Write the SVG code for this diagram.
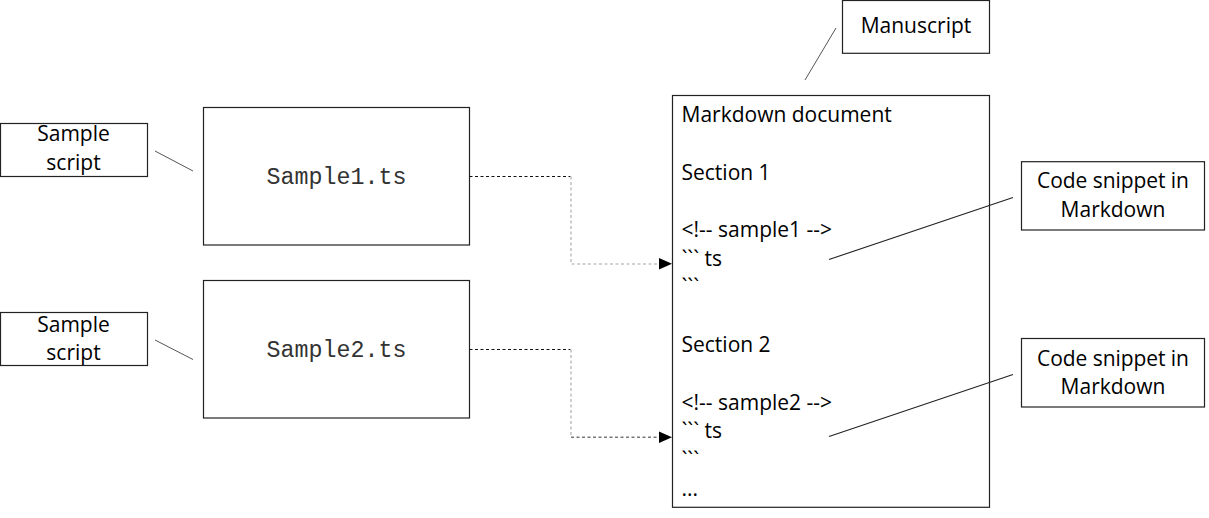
<svg xmlns="http://www.w3.org/2000/svg" width="1209" height="518" viewBox="0 0 1209 518">
<style>
.box{fill:#fff;stroke:#222;stroke-width:1.2}
.t{font-family:"Open Sans","Liberation Sans",sans-serif;font-size:21px;fill:#000}
.c{text-anchor:middle}
.mono{font-family:"Liberation Mono","Courier New",monospace;font-size:23.3px;fill:#333;text-anchor:middle}
.lead{stroke:#555;stroke-width:1;fill:none}
.lead2{stroke:#222;stroke-width:1.1;fill:none}
.dk{stroke:#111;stroke-width:1.2;stroke-dasharray:3,2.5;fill:none}
.lt{stroke:#c4c4c4;stroke-width:1.6;stroke-dasharray:3,2.5;fill:none}
.md{stroke:#777;stroke-width:1.4;stroke-dasharray:3,2.5;fill:none}
.ah{fill:#000}
</style>
<rect width="1209" height="518" fill="#fff"/>
<g id="sample-script-1">
<rect class="box" x="0.5" y="123.5" width="147" height="53"/>
<text class="t c" x="73.5" y="141">Sample</text>
<text class="t c" x="73.5" y="169.5">script</text>
</g>
<g id="sample-script-2">
<rect class="box" x="0.5" y="312.5" width="147" height="53"/>
<text class="t c" x="73.5" y="331.5">Sample</text>
<text class="t c" x="73.5" y="360">script</text>
</g>
<g id="sample1">
<rect class="box" x="203.5" y="107.5" width="266" height="137.5"/>
<text class="mono" x="336.5" y="183.5">Sample1.ts</text>
</g>
<g id="sample2">
<rect class="box" x="203.5" y="280.5" width="266" height="137.5"/>
<text class="mono" x="336.5" y="356.8">Sample2.ts</text>
</g>
<g id="manuscript">
<rect class="box" x="842.5" y="0.5" width="147" height="52.8"/>
<text class="t c" x="916" y="33.3">Manuscript</text>
</g>
<g id="markdown-document">
<rect class="box" x="672.5" y="95.5" width="317" height="411.8"/>
<text class="t" x="681.5" y="121.7">Markdown document</text>
<text class="t" x="681.5" y="179.5">Section 1</text>
<text class="t" x="681.5" y="237">&lt;!-- sample1 --&gt;</text>
<text class="t" x="681.5" y="265.5">``` ts</text>
<text class="t" x="681.5" y="294">```</text>
<text class="t" x="681.5" y="352">Section 2</text>
<text class="t" x="681.5" y="409.5">&lt;!-- sample2 --&gt;</text>
<text class="t" x="681.5" y="438.3">``` ts</text>
<text class="t" x="681.5" y="466.5">```</text>
<text class="t" x="681.5" y="496">...</text>
</g>
<g id="code-snippet-1">
<rect class="box" x="1021.5" y="161.7" width="183" height="68.3"/>
<text class="t c" x="1113" y="188.3" textLength="152">Code snippet in</text>
<text class="t c" x="1113" y="216.7">Markdown</text>
</g>
<g id="code-snippet-2">
<rect class="box" x="1021.5" y="338.5" width="183" height="68.5"/>
<text class="t c" x="1113" y="366" textLength="152">Code snippet in</text>
<text class="t c" x="1113" y="394.3">Markdown</text>
</g>
<g id="connectors">
<line class="lead" x1="155" y1="151" x2="193" y2="171"/>
<line class="lead" x1="155" y1="340" x2="193" y2="359.5"/>
<line class="lead" x1="805" y1="80" x2="836" y2="28"/>
<line class="lead2" x1="829" y1="259.5" x2="1013" y2="197.5"/>
<line class="lead2" x1="829" y1="436.5" x2="1013" y2="374.5"/>
<path class="dk" d="M469.5 176.5H570.5"/>
<path class="lt" d="M571 176.5V264H660"/>
<polygon class="ah" points="659,258 672,263.8 659,269.6"/>
<path class="dk" d="M469.5 349.5H570.5"/>
<path class="lt" d="M571 349.5V437"/>
<path class="md" d="M571 437.3H660"/>
<polygon class="ah" points="659,431.5 672,437.3 659,443.1"/>
</g>
</svg>
